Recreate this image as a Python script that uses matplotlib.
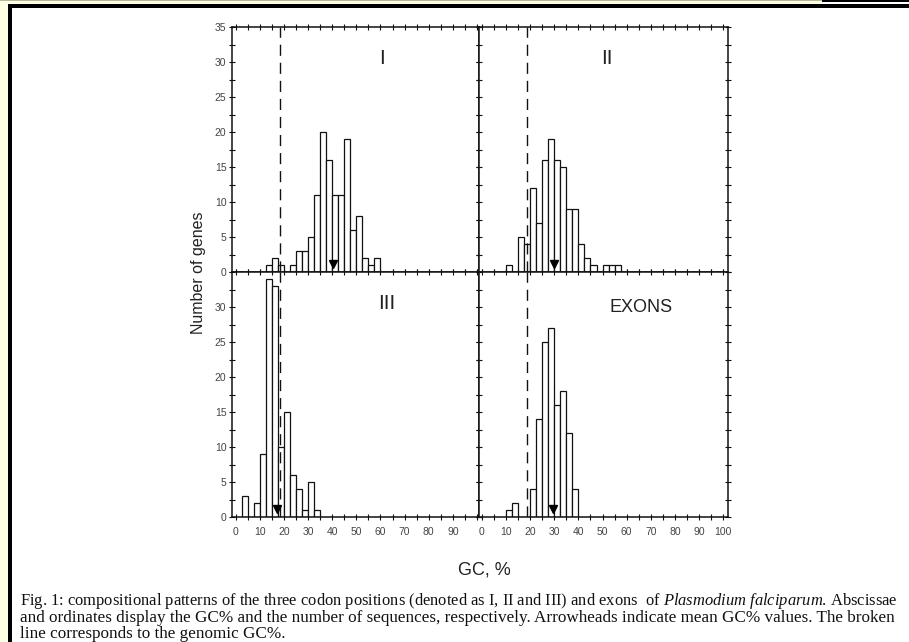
import matplotlib
matplotlib.use("Agg")
import matplotlib.pyplot as plt
from matplotlib.patches import Rectangle
from matplotlib.ticker import MultipleLocator, FixedLocator

W, H = 909, 642

# histogram data (bins of 2.5 GC%)
bin_width = 2.5
genomic_gc = 18.5

names = ["I", "II", "III", "EXONS"]
first_bin = [12.5, 10.0, 2.5, 10.0]
counts_I = [1, 2, 1, 0, 1, 3, 3, 5, 11, 20, 16, 11, 11, 19, 6, 8, 2, 1, 2]
counts_II = [1, 0, 5, 4, 12, 7, 16, 19, 16, 15, 9, 9, 4, 2, 1, 0, 1, 1, 1]
counts_III = [3, 0, 2, 9, 34, 33, 10, 15, 6, 4, 1, 5, 1]
counts_EX = [1, 2, 0, 0, 4, 14, 25, 27, 16, 18, 12, 4]
mean_gc = [40.5, 30.0, 17.0, 29.5]
label_pos = [(60.5, 30.5), (52.0, 30.5), (62.5, 30.5), (66.0, 30.0)]

left_ticks = [0, 10, 20, 30, 40, 50, 60, 70, 80, 90]
right_ticks = [0, 10, 20, 30, 40, 50, 60, 70, 80, 90, 100]

caption = [
    "Fig. 1: compositional patterns of the three codon positions (denoted as I, II and III) and exons  of "
    r"$\mathit{Plasmodium\ falciparum}$. Abscissae",
    "and ordinates display the GC% and the number of sequences, respectively. Arrowheads indicate mean GC% values. The broken",
    "line corresponds to the genomic GC%.",
]

plt.rcParams["mathtext.fontset"] = "custom"
plt.rcParams["mathtext.rm"] = "Liberation Serif"
plt.rcParams["mathtext.it"] = "Liberation Serif:italic"
plt.rcParams["font.family"] = ["Liberation Sans", "DejaVu Sans"]

fig = plt.figure(figsize=(W / 100, H / 100), dpi=100)
fig.patch.set_facecolor("white")


def box(x0, y0, x1, y1):
    return [x0 / W, 1 - y1 / H, (x1 - x0) / W, (y1 - y0) / H]


# page frame
fig.add_artist(Rectangle((0, 0), 8 / W, 1, transform=fig.transFigure, color="#FFFFE3", lw=0))
fig.add_artist(Rectangle((0, 1 - 4 / H), 822 / W, 4 / H, transform=fig.transFigure, color="#FFFFE3", lw=0))
fig.add_artist(Rectangle((0, 1 - 1 / H), 822 / W, 1 / H, transform=fig.transFigure, color="#B8B89A", lw=0))
fig.add_artist(Rectangle((822 / W, 1 - 2 / H), 87 / W, 2 / H, transform=fig.transFigure, color="black", lw=0))
fig.add_artist(Rectangle((8 / W, 1 - 8 / H), 901 / W, 4 / H, transform=fig.transFigure, color="black", lw=0))
fig.add_artist(Rectangle((8 / W, 0), 4 / W, 1 - 4 / H, transform=fig.transFigure, color="black", lw=0))

boxes = [box(232, 27, 479, 272), box(479, 27, 728, 272),
         box(232, 272, 479, 517), box(479, 272, 728, 517)]
all_counts = [counts_I, counts_II, counts_III, counts_EX]

for i in range(4):
    ax = fig.add_axes(boxes[i])
    counts = all_counts[i]
    lefts = [first_bin[i] + k * bin_width for k in range(len(counts))]
    ax.bar(lefts, counts, width=bin_width, align="edge",
           facecolor="white", edgecolor="#111", linewidth=0.9, zorder=2)
    ax.axvline(genomic_gc, color="#111", lw=1.0, ls=(0, (8, 5)), zorder=3)
    ax.plot([mean_gc[i]], [1.1], marker="v", ms=6, color="black", ls="none", zorder=4)
    ax.text(label_pos[i][0], label_pos[i][1], names[i], ha="center", va="center",
            fontsize=15 if i < 3 else 13, color="#222")

    right = i % 2 == 1
    top = i < 2
    ax.set_xlim(-1.2, 102) if right else ax.set_xlim(-1.5, 100.8)
    ax.set_ylim(0, 35)
    ax.xaxis.set_major_locator(FixedLocator(right_ticks if right else left_ticks))
    ax.xaxis.set_minor_locator(MultipleLocator(5))
    if top:
        ax.yaxis.set_major_locator(MultipleLocator(5))
    else:
        ax.yaxis.set_major_locator(FixedLocator([0, 5, 10, 15, 20, 25, 30]))
    ax.yaxis.set_minor_locator(MultipleLocator(2.5))
    ax.tick_params(which="both", direction="inout", top=True, right=True,
                   length=4, width=0.8, color="#111",
                   labelsize=7.5, labelcolor="#444", pad=2)
    ax.tick_params(axis="x", pad=5)
    ax.tick_params(labelbottom=not top, labelleft=not right)
    for s in ax.spines.values():
        s.set_linewidth(1.1)
        s.set_color("#111")

fig.text(198 / W, 1 - 273 / H, "Number of genes", rotation=90, ha="center", va="center",
         fontsize=11.5, color="#222")
fig.text(484 / W, 1 - 570 / H, "GC, %", ha="center", va="center", fontsize=13, color="#222")

# caption, the two full lines stretched to the text block width
renderer = fig.canvas.get_renderer()
baselines = [605, 621.5, 637.5]
size = 10.5
for j, line in enumerate(caption):
    t = fig.text(20 / W, 1 - baselines[j] / H, line, ha="left", va="baseline",
                 fontsize=size, family="Liberation Serif", color="#111")
    if j < 2:
        for _ in range(4):
            w = t.get_window_extent(renderer).width
            size = size * 877 / w
            t.set_fontsize(size)

fig.savefig("out.png", dpi=100)
